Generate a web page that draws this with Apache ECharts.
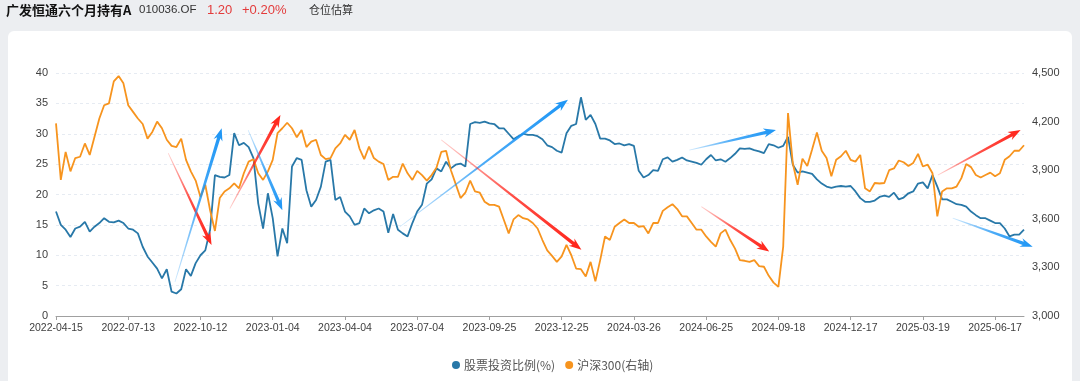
<!DOCTYPE html>
<html>
<head>
<meta charset="utf-8">
<script src="https://cdn.jsdelivr.net/npm/echarts@6/dist/echarts.min.js"></script>
<style>
html,body{margin:0;padding:0;background:#eceef1;}
#c{width:1080px;height:381px;}
</style>
</head>
<body>
<div id="c"></div>
<script>
// ---- DATA ----
const tickLabels = ['2022-04-15','2022-07-13','2022-10-12','2023-01-04','2023-04-04','2023-07-04','2023-09-25',
  '2023-12-25','2024-03-26','2024-06-25','2024-09-18','2024-12-17','2025-03-19','2025-06-17'];
const pointsPerTick = 15;

// 股票投资比例(%) - left axis
const stockRatio = [
  17.2,15.0,14.2,13.0,14.4,14.7,15.5,13.9,14.7,15.3,
  16.1,15.5,15.4,15.7,15.3,14.4,14.2,13.6,11.4,9.8,
  8.8,7.8,6.2,7.7,4.0,3.7,4.4,7.7,6.6,8.7,
  10.0,10.8,14.2,23.2,22.9,22.8,23.2,30.1,28.1,28.5,
  27.8,26.0,18.5,14.4,20.2,16.1,9.8,14.4,12.0,24.6,
  26.0,25.7,20.7,18.0,19.1,21.3,25.4,25.7,19.1,19.6,
  17.2,16.4,15.0,15.3,17.7,16.9,17.4,17.7,17.2,13.7,
  16.8,14.2,13.6,13.1,15.3,17.2,18.3,21.8,22.5,24.3,
  23.8,25.4,24.3,24.9,25.1,24.6,31.6,31.9,31.8,32.0,
  31.7,31.6,30.9,30.9,30.0,29.1,29.6,30.0,29.8,29.8,
  29.6,29.1,28.1,27.8,27.2,26.9,30.1,31.3,31.6,36.0,
  32.3,33.1,31.6,29.2,29.2,28.9,28.3,28.4,28.1,28.3,
  28.0,23.9,22.8,23.2,24.0,23.9,25.8,26.1,25.4,25.7,
  26.1,25.6,25.4,25.2,24.9,25.8,26.5,25.6,25.8,25.4,
  26.0,26.7,27.6,27.5,27.6,27.3,27.1,26.8,28.3,28.1,
  27.7,28.0,29.5,24.9,23.6,23.8,23.6,23.4,22.5,21.8,
  21.3,21.1,21.3,21.4,21.3,21.4,20.5,19.4,18.8,18.8,
  19.0,19.6,19.8,19.6,20.3,19.2,19.5,20.2,20.5,21.8,
  22.0,21.0,23.2,21.3,19.2,19.2,18.8,18.4,18.3,18.0,
  17.2,16.6,16.1,16.1,15.7,15.3,15.3,14.4,13.1,13.4,
  13.4,14.2
];

// 沪深300 - right axis
const csi300 = [
  4189,3840,4013,3893,3975,3983,4065,3994,4106,4219,
  4301,4313,4448,4481,4436,4301,4260,4219,4185,4095,
  4136,4200,4159,4088,4050,4043,4095,3964,3893,3836,
  3735,3810,3653,3525,3728,3769,3788,3818,3788,3881,
  3953,3968,3881,3840,3893,3964,4129,4159,4193,4159,
  4103,4148,4043,4076,4088,3994,3968,3975,4035,4065,
  4118,4088,4148,4035,3968,4046,3975,3953,3938,3840,
  3859,3859,3941,3881,3840,3896,3870,3836,3870,3915,
  4013,4020,3900,3814,3728,3761,3836,3769,3761,3705,
  3686,3686,3675,3593,3510,3596,3623,3604,3596,3574,
  3540,3469,3405,3371,3334,3368,3439,3375,3293,3289,
  3244,3334,3214,3345,3491,3469,3551,3574,3596,3574,
  3574,3551,3555,3510,3574,3574,3649,3671,3690,3660,
  3615,3615,3574,3533,3533,3491,3458,3428,3510,3533,
  3469,3416,3345,3341,3334,3345,3308,3304,3248,3206,
  3180,3428,4253,3941,3810,3971,3926,4028,4133,4020,
  3975,3863,3964,3986,4020,3964,3953,3994,3788,3769,
  3821,3818,3821,3900,3911,3960,3949,3926,3945,4001,
  3923,3934,3881,3615,3769,3788,3788,3799,3851,3938,
  3919,3870,3855,3870,3885,3863,3881,3964,3986,4020,
  4020,4054
];

// annotation arrows: [fromIndex, fromValue(left axis), toIndex, toValue(left axis), kind]
const annotationArrows = [
  [23.3,26.8,32.3,11.7,'red'],
  [24.7,5.6,34.4,30.9,'blue'],
  [36.1,17.7,46.6,33.1,'red'],
  [39.9,30.6,47.0,17.4,'blue'],
  [71.4,14.7,106.3,35.6,'blue'],
  [80.0,29.0,109.1,10.9,'red'],
  [131.5,27.3,149.5,30.6,'blue'],
  [134.0,18.0,148.1,10.6,'red'],
  [183.1,23.2,200.3,30.6,'red'],
  [186.2,16.1,202.8,11.4,'blue']
];

// ---- CHART ----
const FONT = "'Liberation Sans','Noto Sans CJK SC',sans-serif";
const CJK = "'Noto Sans CJK SC','Liberation Sans',sans-serif";
const BLUE = '#2878a8';
const ORANGE = '#f7941e';
const ARROW = { red: [255, 35, 25], blue: [30, 150, 245] };

const chart = echarts.init(document.getElementById('c'), null, { renderer: 'canvas' });
const categories = stockRatio.map((_, i) => 'p' + i);

const option = {
  animation: false,
  backgroundColor: '#eceef1',
  textStyle: { fontFamily: FONT },
  grid: { left: 56, right: 56, top: 73, bottom: 65 },
  legend: {
    left: 447, top: 354,
    icon: 'circle', itemWidth: 8, itemHeight: 8, itemGap: 10,
    textStyle: { fontSize: 12, color: '#555', fontFamily: CJK, padding: [0, 0, 0, -1] },
    data: ['股票投资比例(%)', '沪深300(右轴)']
  },
  xAxis: {
    type: 'category', data: categories, boundaryGap: false,
    axisLine: { lineStyle: { color: '#a0a0a0', width: 1 } },
    axisTick: { interval: pointsPerTick - 1, length: 4, lineStyle: { color: '#a0a0a0' } },
    axisLabel: {
      interval: pointsPerTick - 1, color: '#404040', fontSize: 10.5, margin: 7,
      formatter: (v, idx) => (idx % pointsPerTick === 0 && tickLabels[idx / pointsPerTick]) || ''
    },
    splitLine: { show: false }
  },
  yAxis: [
    {
      type: 'value', min: 0, max: 40, interval: 5,
      axisLine: { show: false }, axisTick: { show: false },
      axisLabel: { color: '#404040', fontSize: 11, margin: 8 },
      splitLine: { lineStyle: { type: [3, 3], color: '#e6ebf2', width: 1 } }
    },
    {
      type: 'value', position: 'right', min: 3000, max: 4500, interval: 300,
      axisLine: { show: false }, axisTick: { show: false },
      axisLabel: { color: '#404040', fontSize: 11, margin: 8,
        formatter: v => v.toLocaleString('en-US') },
      splitLine: { show: false }
    }
  ],
  series: [
    {
      name: '股票投资比例(%)', type: 'line', yAxisIndex: 0, data: stockRatio,
      showSymbol: false, symbol: 'none', lineStyle: { color: BLUE, width: 1.8 }, itemStyle: { color: BLUE }, z: 3
    },
    {
      name: '沪深300(右轴)', type: 'line', yAxisIndex: 1, data: csi300,
      showSymbol: false, symbol: 'none', lineStyle: { color: ORANGE, width: 1.8 }, itemStyle: { color: ORANGE }, z: 4
    }
  ]
};
chart.setOption(option);

// pixel helpers through the library's scales
const N = stockRatio.length;
const pxA = chart.convertToPixel({ xAxisIndex: 0 }, categories[0]);
const pxB = chart.convertToPixel({ xAxisIndex: 0 }, categories[N - 1]);
function toPx(i, v) {
  const x = pxA + (pxB - pxA) * i / (N - 1);
  const y = chart.convertToPixel({ yAxisIndex: 0 }, v);
  return [x, y];
}
function rgba(c, a) { return 'rgba(' + c[0] + ',' + c[1] + ',' + c[2] + ',' + a + ')'; }
function arrowShape(a) {
  const p0 = toPx(a[0], a[1]), p1 = toPx(a[2], a[3]);
  const c = ARROW[a[4]];
  const dx = p1[0] - p0[0], dy = p1[1] - p0[1];
  const L = Math.hypot(dx, dy);
  const ux = dx / L, uy = dy / L, nx = -uy, ny = ux;
  const H = 10, HW = 4.6, SW = 1.7, TW = 0.4, BACK = 2.5;
  const bx = p1[0] - ux * H, by = p1[1] - uy * H;
  const wx = p1[0] - ux * (H + BACK), wy = p1[1] - uy * (H + BACK);
  const pts = [
    [p0[0] + nx * TW, p0[1] + ny * TW],
    [bx + nx * SW, by + ny * SW],
    [wx + nx * HW, wy + ny * HW],
    [p1[0], p1[1]],
    [wx - nx * HW, wy - ny * HW],
    [bx - nx * SW, by - ny * SW],
    [p0[0] - nx * TW, p0[1] - ny * TW]
  ];
  return {
    type: 'polygon', silent: true, z: 50,
    shape: { points: pts },
    style: {
      fill: new echarts.graphic.LinearGradient(p0[0], p0[1], p1[0], p1[1], [
        { offset: 0, color: rgba(c, 0.2) },
        { offset: 0.5, color: rgba(c, 0.8) },
        { offset: 1, color: rgba(c, 1) }
      ], true)
    }
  };
}

const graphics = [
  { type: 'rect', silent: true, z: -10, shape: { x: 8, y: 31, width: 1064, height: 370, r: 6 }, style: { fill: '#ffffff' } },
  { type: 'text', silent: true, z: 10, x: 6, y: 10, style: { text: '广发恒通六个月持有A', font: "bold 13px " + CJK, fill: '#111111', verticalAlign: 'middle' } },
  { type: 'text', silent: true, z: 10, x: 139, y: 10, style: { text: '010036.OF', font: "11.5px " + FONT, fill: '#333333', verticalAlign: 'middle' } },
  { type: 'text', silent: true, z: 10, x: 207, y: 10, style: { text: '1.20', font: "13px " + FONT, fill: '#e33b3b', verticalAlign: 'middle' } },
  { type: 'text', silent: true, z: 10, x: 242, y: 10, style: { text: '+0.20%', font: "13px " + FONT, fill: '#e33b3b', verticalAlign: 'middle' } },
  { type: 'text', silent: true, z: 10, x: 309, y: 10, style: { text: '仓位估算', font: "11px " + CJK, fill: '#333333', verticalAlign: 'middle' } }
].concat(annotationArrows.map(arrowShape));

chart.setOption({ graphic: graphics });
</script>
</body>
</html>
